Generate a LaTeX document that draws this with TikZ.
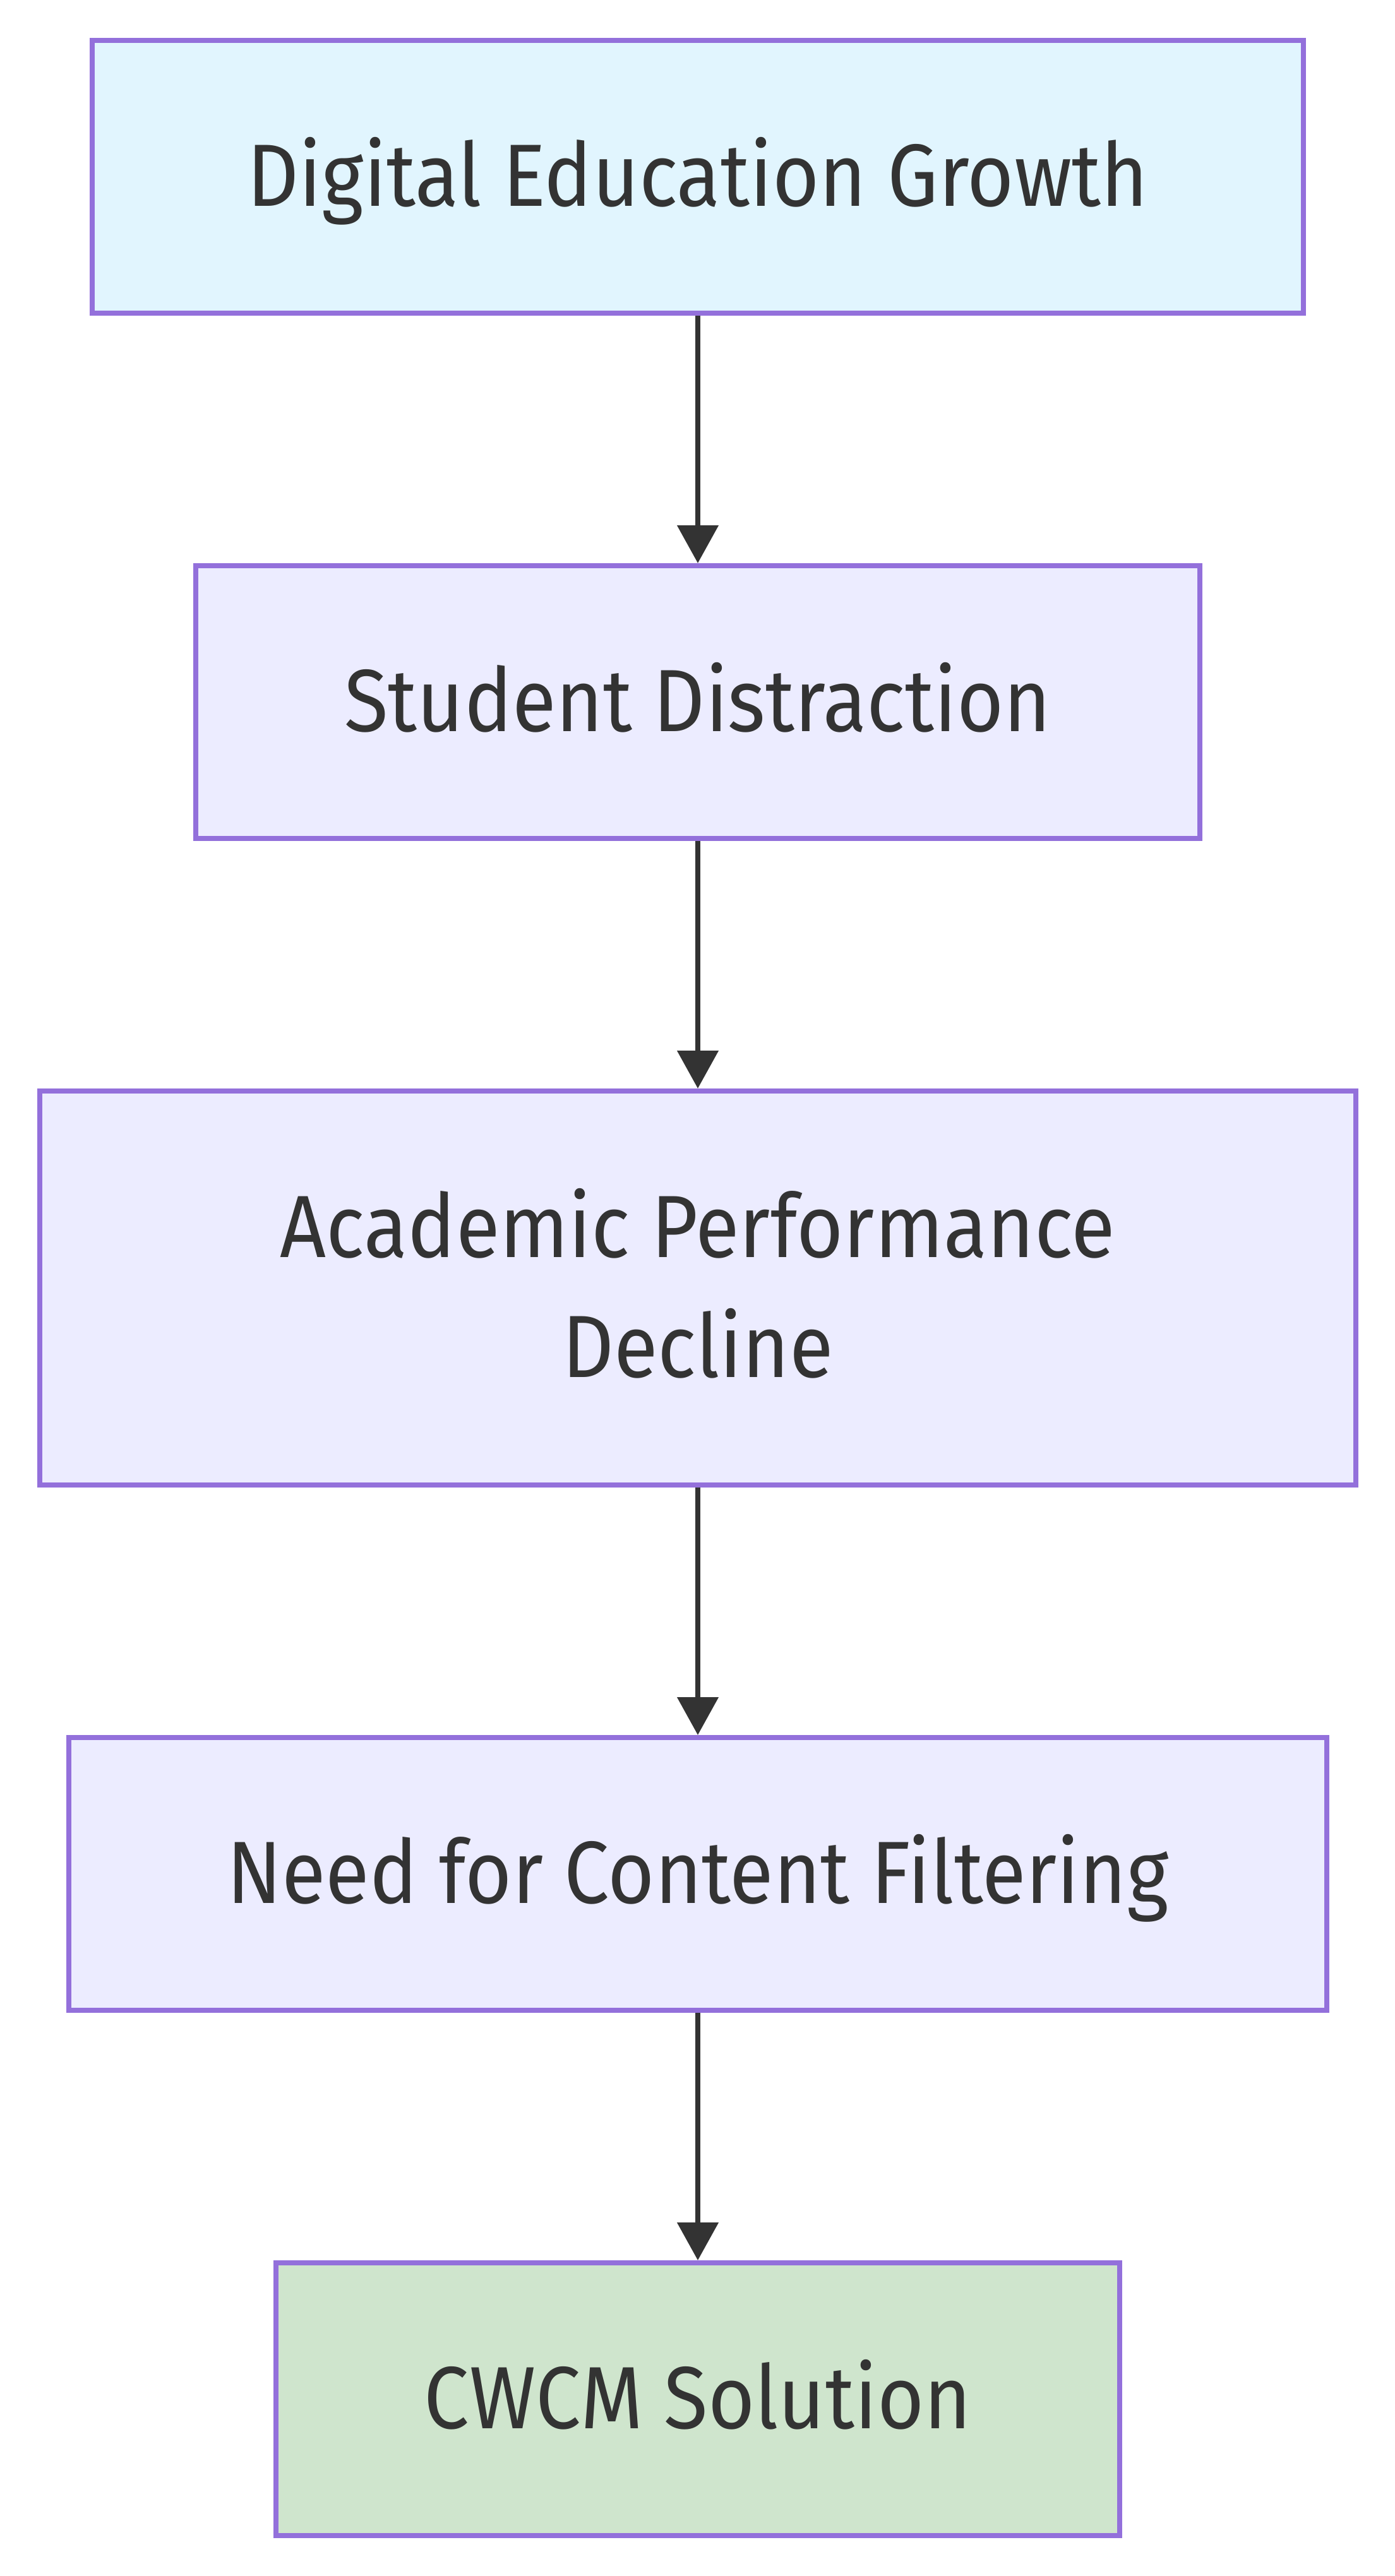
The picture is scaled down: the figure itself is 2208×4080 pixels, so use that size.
\documentclass[tikz,border=0pt]{standalone}
\usepackage{fontspec}
\setmainfont{Fira Sans}[FakeStretch=0.91]
\usetikzlibrary{arrows.meta}
\definecolor{edgecol}{HTML}{9370DB}
\definecolor{ink}{HTML}{333333}
\definecolor{lav}{HTML}{ECECFF}
\definecolor{sky}{HTML}{E1F5FE}
\definecolor{mint}{HTML}{CFE5CD}
\begin{document}
\begin{tikzpicture}[x=0.25pt,y=-0.25pt,
 box/.style={draw=edgecol, line width=2pt, fill=lav, text=ink,
   font=\fontsize{35}{47.5}\selectfont, align=center, inner sep=0pt,
   text height=32pt, text depth=8.6pt,
   minimum height=108pt},
 flow/.style={draw=ink, line width=2pt, -{Triangle[width=16pt,length=15pt]}}]
\fill[white] (0,0) rectangle (2208,4080);
\useasboundingbox (0,0) rectangle (2208,4080);
\node[box, fill=sky, minimum width=479.5pt] (n1) at (1105,280) {Digital Education Growth};
\node[box, minimum width=397.5pt] (n2) at (1105,1112) {Student Distraction};
\node[box, minimum width=521pt, minimum height=156pt, text height=79.5pt] (n3) at (1105,2040) {Academic Performance\\Decline};
\node[box, minimum width=498pt] (n4) at (1105,2968) {Need for Content Filtering};
\node[box, fill=mint, minimum width=334pt] (n5) at (1105,3800) {CWCM Solution};
\draw[flow] (n1) -- (n2);
\draw[flow] (n2) -- (n3);
\draw[flow] (n3) -- (n4);
\draw[flow] (n4) -- (n5);
\end{tikzpicture}
\end{document}
